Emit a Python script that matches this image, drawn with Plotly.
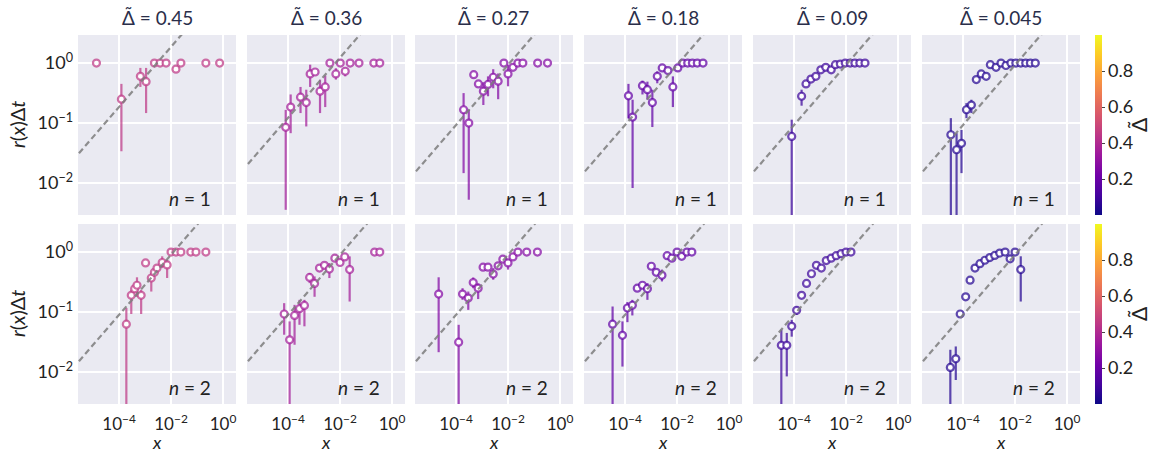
import numpy as np
import plotly.graph_objects as go
from plotly.colors import sample_colorscale

W, H = 1159, 454
FONT = "Lato"

# ---------------------------------------------------------------- data
delta_values = [0.45, 0.36, 0.27, 0.18, 0.09, 0.045]
delta_labels = ["0.45", "0.36", "0.27", "0.18", "0.09", "0.045"]
orders = [1, 2]

x_tickvals = [1e-4, 1e-2, 1.0]
x_ticktext = ["10<sup>−4</sup>", "10<sup>−2</sup>", "10<sup>0</sup>"]
y_tickvals = [1e-2, 1e-1, 1.0]
y_ticktext = ["10<sup>−2</sup>", "10<sup>−1</sup>", "10<sup>0</sup>"]
cbar_tickvals = [0.2, 0.4, 0.6, 0.8]

# reference slope-1/2 guide: r(x)Δt = coef * sqrt(x)
guide_coef_n1 = [18.6, 12.3, 9.3, 9.3, 9.3, 9.3]
guide_coef_n2 = [9.0, 9.0, 9.0, 9.0, 9.0, 9.0]

# n = 1 ----------------------------------------------------------------
log10x_n1_045 = [-4.87, -3.91, -3.18, -2.96, -2.64, -2.42, -2.19, -1.81, -1.62, -0.66, -0.13]
rate_n1_045 = [1.0, 0.25, 0.60, 0.49, 1.0, 1.0, 1.0, 0.79, 1.0, 1.0, 1.0]
lo_n1_045 = [None, 0.034, 0.40, 0.147, None, None, None, 0.70, None, None, None]
hi_n1_045 = [None, 0.45, 0.83, 0.83, None, None, None, 0.89, None, None, None]

log10x_n1_036 = [-4.09, -3.90, -3.52, -3.30, -3.15, -2.96, -2.77, -2.57, -2.39, -2.16,
                 -1.99, -1.80, -1.61, -1.27, -0.70, -0.47]
rate_n1_036 = [0.085, 0.185, 0.27, 0.22, 0.66, 0.71, 0.34, 0.40, 1.0, 0.66,
               1.0, 0.73, 1.0, 1.0, 1.0, 1.0]
lo_n1_036 = [0.0036, 0.068, 0.147, 0.088, 0.40, None, 0.147, 0.185, None, 0.53,
             None, 0.60, None, None, None, None]
hi_n1_036 = [0.166, 0.30, 0.40, 0.36, 0.94, None, 0.53, 0.62, None, 0.82,
             None, 0.78, None, None, None, None]

log10x_n1_027 = [-3.71, -3.51, -3.32, -3.14, -2.95, -2.77, -2.57, -2.38, -2.16, -2.00,
                 -1.81, -1.62, -1.43, -0.86, -0.48]
rate_n1_027 = [0.167, 0.10, 0.64, 0.45, 0.34, 0.44, 0.58, 0.50, 1.0, 0.66,
               0.85, 1.0, 1.0, 1.0, 1.0]
lo_n1_027 = [0.0147, 0.0053, None, None, 0.20, 0.28, 0.38, 0.25, None, 0.41,
             None, None, None, None, None]
hi_n1_027 = [0.316, 0.167, None, None, 0.48, 0.60, 0.79, 0.67, None, 0.94,
             None, None, None, None, None]

log10x_n1_018 = [-3.87, -3.71, -3.33, -3.14, -2.95, -2.76, -2.57, -2.35, -2.16, -1.97,
                 -1.78, -1.59, -1.41, -1.22, -1.00]
rate_n1_018 = [0.285, 0.126, 0.42, 0.36, 0.22, 0.60, 0.83, 0.75, 0.40, 0.83,
               1.0, 1.0, 1.0, 1.0, 1.0]
lo_n1_018 = [0.12, 0.0083, 0.30, 0.245, 0.086, 0.46, None, None, 0.185, None,
             None, None, None, None, None]
hi_n1_018 = [0.45, 0.245, 0.51, 0.49, 0.36, 0.73, None, None, 0.60, None,
             None, None, None, None, None]

log10x_n1_009 = [-4.09, -3.71, -3.54, -3.35, -3.16, -2.97, -2.78, -2.57, -2.41, -2.22,
                 -2.03, -1.84, -1.66, -1.47, -1.27]
rate_n1_009 = [0.060, 0.28, 0.45, 0.54, 0.60, 0.77, 0.85, 0.77, 0.94, 0.96,
               1.0, 1.0, 1.0, 1.0, 1.0]
lo_n1_009 = [0.001, 0.195, None, None, None, None, None, None, None, None,
             None, None, None, None, None]
hi_n1_009 = [0.114, 0.36, None, None, None, None, None, None, None, None,
             None, None, None, None, None]

log10x_n1_0045 = [-4.47, -4.25, -4.06, -3.87, -3.68, -3.49, -3.30, -3.11, -2.95, -2.73,
                  -2.54, -2.35, -2.16, -1.97, -1.78, -1.59, -1.41, -1.22]
rate_n1_0045 = [0.064, 0.036, 0.046, 0.167, 0.20, 0.53, 0.66, 0.60, 0.94, 0.85,
                1.0, 0.91, 1.0, 1.0, 1.0, 1.0, 1.0, 1.0]
lo_n1_0045 = [0.001, 0.001, 0.0147, 0.121, 0.147, None, None, None, None, None,
              None, None, None, None, None, None, None, None]
hi_n1_0045 = [0.121, 0.068, 0.077, 0.215, 0.245, None, None, None, None, None,
              None, None, None, None, None, None, None, None]

# n = 2 ----------------------------------------------------------------
log10x_n2_045 = [-3.72, -3.53, -3.40, -3.31, -3.15, -2.98, -2.76, -2.64, -2.54, -2.34,
                 -2.15, -2.00, -1.81, -1.62, -1.24, -1.04, -0.66]
rate_n2_045 = [0.063, 0.19, 0.245, 0.28, 0.19, 0.66, 0.37, 0.46, 0.54, 0.67,
               0.61, 1.0, 1.0, 1.0, 1.0, 1.0, 1.0]
lo_n2_045 = [0.001, 0.093, None, 0.18, 0.093, None, 0.22, None, None, 0.54,
             0.37, None, None, None, None, None, None]
hi_n2_045 = [0.117, 0.235, None, 0.38, 0.235, None, 0.45, None, None, 0.85,
             0.745, None, None, None, None, None, None]

log10x_n2_036 = [-4.15, -3.94, -3.75, -3.56, -3.37, -3.17, -2.98, -2.79, -2.60, -2.41,
                 -2.20, -2.00, -1.82, -1.63, -0.67, -0.47]
rate_n2_036 = [0.093, 0.0346, 0.088, 0.114, 0.129, 0.378, 0.30, 0.54, 0.60, 0.52,
               0.79, 0.67, 0.83, 0.51, 1.0, 1.0]
lo_n2_036 = [0.042, 0.001, 0.0286, 0.0615, 0.058, 0.304, 0.18, None, None, 0.369,
             None, None, None, 0.15, None, None]
hi_n2_036 = [0.141, 0.070, 0.132, 0.16, 0.16, 0.447, 0.393, None, None, 0.656,
             None, None, None, 0.847, None, None]

log10x_n2_027 = [-4.67, -3.90, -3.75, -3.53, -3.34, -3.15, -2.96, -2.77, -2.57, -2.38,
                 -2.20, -2.00, -1.81, -1.62, -1.28, -0.87]
rate_n2_027 = [0.20, 0.0316, 0.20, 0.171, 0.31, 0.25, 0.56, 0.56, 0.43, 0.59,
               0.76, 0.66, 0.83, 1.0, 1.0, 1.0]
lo_n2_027 = [0.0215, 0.001, 0.16, 0.109, 0.25, 0.165, None, None, 0.346, None,
             None, 0.51, None, None, None, None]
hi_n2_027 = [0.38, 0.0615, 0.25, 0.22, 0.378, 0.30, None, None, 0.54, None,
             None, 0.745, None, None, None, None]

log10x_n2_018 = [-4.48, -4.10, -3.91, -3.72, -3.53, -3.33, -3.14, -2.99, -2.80, -2.58,
                 -2.38, -2.20, -2.00, -1.82, -1.62, -1.43]
rate_n2_018 = [0.063, 0.041, 0.117, 0.13, 0.25, 0.28, 0.245, 0.58, 0.46, 0.41,
               0.87, 0.79, 1.0, 0.85, 1.0, 1.0]
lo_n2_018 = [0.001, 0.0124, 0.068, 0.088, None, None, 0.16, None, None, 0.324,
             None, None, None, None, None, None]
hi_n2_018 = [0.124, 0.070, 0.147, 0.16, None, None, 0.304, None, None, 0.51,
             None, None, None, None, None, None]

log10x_n2_009 = [-4.49, -4.28, -4.09, -3.90, -3.71, -3.52, -3.33, -3.14, -2.95, -2.76,
                 -2.57, -2.38, -2.19, -2.00, -1.81]
rate_n2_009 = [0.028, 0.028, 0.058, 0.107, 0.19, 0.30, 0.435, 0.60, 0.54, 0.72,
               0.79, 0.87, 0.94, 1.0, 1.0]
lo_n2_009 = [0.001, 0.0085, 0.039, 0.09, None, None, None, None, None, None,
             None, None, None, None, None]
hi_n2_009 = [0.051, 0.045, 0.0745, 0.124, None, None, None, None, None, None,
             None, None, None, None, None]

log10x_n2_0045 = [-4.49, -4.28, -4.11, -3.90, -3.73, -3.54, -3.35, -3.16, -2.97, -2.78,
                  -2.59, -2.38, -2.19, -2.00, -1.78]
rate_n2_0045 = [0.012, 0.0167, 0.093, 0.18, 0.34, 0.54, 0.64, 0.73, 0.81, 0.88,
                0.96, 1.0, 0.77, 1.0, 0.51]
lo_n2_0045 = [0.001, 0.0074, None, None, None, None, None, None, None, None,
              None, None, 0.70, None, 0.15]
hi_n2_0045 = [0.0236, 0.0268, None, None, None, None, None, None, None, None,
              None, None, 0.90, None, 0.85]

panels = [
    [(log10x_n1_045, rate_n1_045, lo_n1_045, hi_n1_045),
     (log10x_n1_036, rate_n1_036, lo_n1_036, hi_n1_036),
     (log10x_n1_027, rate_n1_027, lo_n1_027, hi_n1_027),
     (log10x_n1_018, rate_n1_018, lo_n1_018, hi_n1_018),
     (log10x_n1_009, rate_n1_009, lo_n1_009, hi_n1_009),
     (log10x_n1_0045, rate_n1_0045, lo_n1_0045, hi_n1_0045)],
    [(log10x_n2_045, rate_n2_045, lo_n2_045, hi_n2_045),
     (log10x_n2_036, rate_n2_036, lo_n2_036, hi_n2_036),
     (log10x_n2_027, rate_n2_027, lo_n2_027, hi_n2_027),
     (log10x_n2_018, rate_n2_018, lo_n2_018, hi_n2_018),
     (log10x_n2_009, rate_n2_009, lo_n2_009, hi_n2_009),
     (log10x_n2_0045, rate_n2_0045, lo_n2_0045, hi_n2_0045)],
]
guide_coefs = [guide_coef_n1, guide_coef_n2]

# ---------------------------------------------------------------- layout geometry (pixels)
col_left = [78, 247, 415, 584, 753, 922]
col_width = 158
row_top = [35, 224]
row_height = 180
x_log_range = [-5.58, 0.5]
y_log_range = [-2.53, 0.467]

TXT = "#222222"
TICK_SIZE = 18


def px_x(p):
    return p / W


def px_y(p):
    return 1 - p / H


def delta_rgba(d, alpha=0.72):
    rgb = sample_colorscale("Plasma", [d])[0]
    r, g, b = [int(float(v)) for v in rgb[rgb.index("(") + 1:-1].split(",")]
    return f"rgba({r},{g},{b},{alpha})"


fig = go.Figure()
layout = dict(
    width=W, height=H,
    margin=dict(l=0, r=0, t=0, b=0),
    paper_bgcolor="white",
    plot_bgcolor="#eaeaf2",
    showlegend=False,
    font=dict(family=FONT, size=TICK_SIZE, color=TXT),
    annotations=[],
)

for r in range(2):
    for c in range(6):
        k = r * 6 + c + 1
        xa = "x" if k == 1 else f"x{k}"
        ya = "y" if k == 1 else f"y{k}"
        xdom = [px_x(col_left[c]), px_x(col_left[c] + col_width)]
        ydom = [px_y(row_top[r] + row_height), px_y(row_top[r])]
        layout["xaxis" if k == 1 else f"xaxis{k}"] = dict(
            domain=xdom, anchor=ya, type="log", range=x_log_range,
            tickvals=x_tickvals, ticktext=x_ticktext,
            showticklabels=(r == 1), ticks="", ticklabelstandoff=8,
            showgrid=True, gridcolor="white", gridwidth=1.5,
            zeroline=False, showline=False,
            tickfont=dict(family=FONT, size=17, color=TXT),
        )
        layout["yaxis" if k == 1 else f"yaxis{k}"] = dict(
            domain=ydom, anchor=xa, type="log", range=y_log_range,
            tickvals=y_tickvals, ticktext=y_ticktext,
            showticklabels=(c == 0), ticks="", ticklabelstandoff=4,
            showgrid=True, gridcolor="white", gridwidth=1.5,
            zeroline=False, showline=False,
            tickfont=dict(family=FONT, size=TICK_SIZE, color=TXT),
        )

        log10x, rate, lo, hi = panels[r][c]
        x = 10.0 ** np.array(log10x)
        y = np.array(rate, dtype=float)
        err_up = np.array([0.0 if h is None else h - yy for h, yy in zip(hi, y)])
        err_dn = np.array([0.0 if l is None else yy - l for l, yy in zip(lo, y)])
        col = delta_rgba(delta_values[c])

        fig.add_trace(go.Scatter(
            x=x, y=y, mode="markers", xaxis=xa, yaxis=ya,
            marker=dict(symbol="circle", size=7, color="white",
                        line=dict(color=col, width=2.2)),
            error_y=dict(type="data", symmetric=False, array=err_up,
                         arrayminus=err_dn, width=0, thickness=2.2, color=col),
            hoverinfo="skip",
        ))

        # slope-1/2 reference line
        gx = np.logspace(-6.5, 1.5, 60)
        gy = guide_coefs[r][c] * np.sqrt(gx)
        fig.add_trace(go.Scatter(
            x=gx, y=gy, mode="lines", xaxis=xa, yaxis=ya,
            line=dict(color="rgba(125,125,125,0.85)", width=2.2, dash="6px,3.5px"),
            hoverinfo="skip",
        ))

        # n label
        layout["annotations"].append(dict(
            text=f"<i>n</i> = {orders[r]}", showarrow=False,
            xref=f"{xa} domain", yref=f"{ya} domain",
            x=0.855, y=0.09, xanchor="right", yanchor="middle",
            font=dict(family=FONT, size=19, color=TXT),
        ))

        if r == 0:
            layout["annotations"].append(dict(
                text=f"Δ̃ = {delta_labels[c]}", showarrow=False,
                xref="paper", yref="paper",
                x=px_x(col_left[c] + col_width / 2), y=px_y(18),
                xanchor="center", yanchor="middle",
                font=dict(family=FONT, size=19, color="#2a2e4a"),
            ))
        else:
            layout["annotations"].append(dict(
                text="<i>x</i>", showarrow=False,
                xref="paper", yref="paper",
                x=px_x(col_left[c] + col_width / 2), y=px_y(442),
                xanchor="center", yanchor="middle",
                font=dict(family=FONT, size=18, color=TXT),
            ))

    # row y-label
    layout["annotations"].append(dict(
        text="<i>r</i>(<i>x</i>)Δ<i>t</i>", showarrow=False, textangle=-90,
        xref="paper", yref="paper",
        x=px_x(17), y=px_y(row_top[r] + row_height / 2),
        xanchor="center", yanchor="middle",
        font=dict(family=FONT, size=20, color=TXT),
    ))
    # colorbar label
    layout["annotations"].append(dict(
        text="Δ̃", showarrow=False, textangle=-90,
        xref="paper", yref="paper",
        x=px_x(1138), y=px_y(row_top[r] + row_height / 2),
        xanchor="center", yanchor="middle",
        font=dict(family=FONT, size=21, color=TXT),
    ))

    # colour bar for this row
    cax = "coloraxis" if r == 0 else "coloraxis2"
    layout[cax] = dict(
        colorscale="Plasma", cmin=0.0, cmax=1.0,
        colorbar=dict(
            x=px_x(1095), xanchor="left", xpad=0,
            y=px_y(row_top[r] + row_height / 2), yanchor="middle", ypad=0,
            len=row_height, lenmode="pixels", thickness=7,
            outlinewidth=0, ticks="outside", ticklen=3, tickcolor="#444",
            tickvals=cbar_tickvals, ticktext=[f"{v:.1f}" for v in cbar_tickvals],
            tickfont=dict(family=FONT, size=TICK_SIZE, color=TXT),
        ),
    )
    fig.add_trace(go.Scatter(
        x=[None], y=[None], mode="markers",
        xaxis="x" if r == 0 else "x7", yaxis="y" if r == 0 else "y7",
        marker=dict(color=[0.5], coloraxis=cax), hoverinfo="skip",
    ))

fig.update_layout(**layout)
fig.write_html("out.html")
